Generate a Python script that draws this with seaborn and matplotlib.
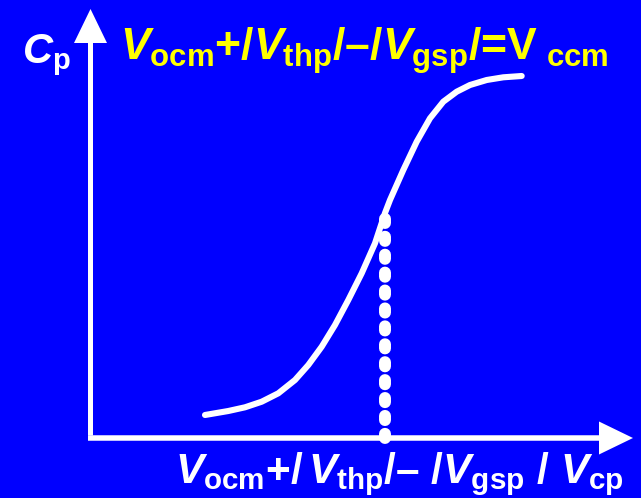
import matplotlib
matplotlib.use("Agg")
import matplotlib.pyplot as plt
import seaborn as sns
import pandas as pd

# Capacitance curve C_p against the control voltage V_cp (sketch units)
vcp = [114.5, 137.8, 154.5, 171.2, 187.8, 204.5, 217.8, 231.2, 244.5, 257.8,
       271.2, 284.5, 294.5, 299.5, 312.8, 326.2, 339.5, 352.8, 366.2, 379.5,
       396.2, 412.8, 431.2]
cp = [23, 27, 30.7, 36.3, 44.7, 58, 73, 91.3, 113, 138,
      164.7, 194.7, 225, 238, 268, 296.3, 319.7, 336.3, 346.3, 353,
      358, 360.7, 362]

# operating point marked by the dotted drop line
v_op = 294.5
c_op = 223

title_txt = (r"$\mathit{V}_{\mathrm{ocm}}$+/$\mathit{V}_{\mathrm{thp}}$/–/"
             r"$\mathit{V}_{\mathrm{gsp}}$/=$\mathrm{V}_{\mathrm{\ ccm}}$")
xlabel_txt = (r"$\mathit{V}_{\mathrm{ocm}}$+/$\,\mathit{V}_{\mathrm{thp}}$/– /"
              r"$\mathit{V}_{\mathrm{gsp}}$ / $\mathit{V}_{\mathrm{cp}}$")
ylabel_txt = r"$\mathit{C}_{\mathrm{p}}$"

BLUE = "#0000FF"
YELLOW = "#FFFF00"
WHITE = "#FFFFFF"

sns.set_theme(style="white")
plt.rcParams["font.family"] = ["Liberation Sans", "DejaVu Sans"]
plt.rcParams["mathtext.fontset"] = "custom"
plt.rcParams["mathtext.rm"] = "Liberation Sans:bold"
plt.rcParams["mathtext.bf"] = "Liberation Sans:bold"
plt.rcParams["mathtext.it"] = "Liberation Sans:bold:italic"

fig = plt.figure(figsize=(6.41, 4.98), dpi=100, facecolor=BLUE)
ax = fig.add_axes([0, 0, 1, 1])
ax.set_facecolor(BLUE)
ax.set_xlim(-90.5, 550.5)
ax.set_ylim(-60, 438)
ax.axis("off")

# axes drawn as arrows
ax.arrow(-2.5, 0, 545, 0, width=5.5, head_width=33, head_length=34,
         length_includes_head=True, color=WHITE, lw=0, zorder=3)
ax.arrow(0, 2.5, 0, 426.5, width=5.0, head_width=33, head_length=34,
         length_includes_head=True, color=WHITE, lw=0, zorder=3)

df = pd.DataFrame({"vcp": vcp, "cp": cp})
sns.lineplot(data=df, x="vcp", y="cp", ax=ax, color=WHITE, lw=4.4,
             solid_capstyle="round", solid_joinstyle="round", zorder=4)

# dotted drop line from the operating point to the V axis
drop, = ax.plot([v_op, v_op], [0, c_op], color=WHITE, lw=8.6, zorder=5)
drop.set_dashes((0.35, 1.15))
drop.set_dash_capstyle("round")

ax.text(29.5, 378, title_txt, color=YELLOW, fontsize=32, fontweight="bold",
        ha="left", va="baseline")
ax.text(84.5, -45, xlabel_txt, color=WHITE, fontsize=30.5, fontweight="bold",
        ha="left", va="baseline")
ax.text(-68.5, 375, ylabel_txt, color=WHITE, fontsize=30, fontweight="bold",
        ha="left", va="baseline")

fig.savefig("out.png", dpi=100, facecolor=BLUE)
